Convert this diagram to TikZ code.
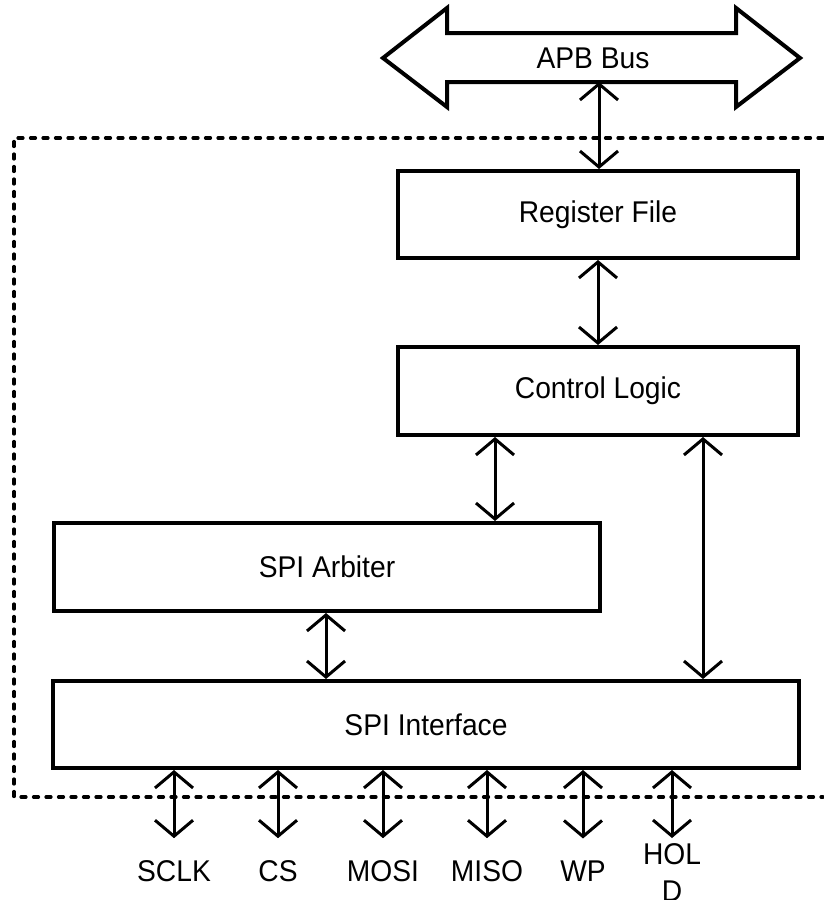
\documentclass[tikz,border=0pt]{standalone}
\usepackage{fontspec}
\setmainfont{Liberation Sans}
\newfontfamily\narrowfont[FakeStretch=0.94]{Liberation Sans}
\usetikzlibrary{arrows.meta}
\tikzset{
  blk/.style={draw, line width=4pt, rectangle, inner sep=0pt, font=\narrowfont\fontsize{30}{35}\selectfont},
  conn/.style={line width=3pt, {Straight Barb[length=16pt,width=38pt,line width=3pt]}-{Straight Barb[length=16pt,width=38pt,line width=3pt]}},
  lab/.style={inner sep=0pt, font=\narrowfont\fontsize{30}{37}\selectfont},
  bound/.style={line width=3.2pt, line cap=round, dash pattern=on 5pt off 7.5pt},
}
\begin{document}
\begin{tikzpicture}[x=1pt,y=-1pt]
\useasboundingbox (0,0) rectangle (823,900);
% APB bus double arrow
\draw[line width=4pt, line join=miter] (383,58) -- (447,8) -- (447,33) -- (736,33) -- (736,8) -- (800,58) -- (736,107) -- (736,82) -- (447,82) -- (447,107) -- cycle;
\node[lab] (apb) at (593,58) {APB Bus};
\coordinate (apbbot) at (599,82);
% boundary
\draw[bound] (823,138) -- (14,138) -- (14,797) -- (823,797);
% blocks
\node[blk, minimum width=400pt, minimum height=87pt] (reg) at (598,214.5) {Register File};
\node[blk, minimum width=400pt, minimum height=88pt] (ctrl) at (598,391) {Control Logic};
\node[blk, minimum width=546pt, minimum height=88pt] (arb) at (327,567) {SPI Arbiter};
\node[blk, minimum width=746pt, minimum height=87pt] (spi) at (426,724.5) {SPI Interface};
% helper columns
\coordinate (xa) at (495,0);
\coordinate (xb) at (703,0);
\coordinate (xc) at (326,0);
% connectors
\draw[conn] (apbbot) -- (apbbot |- reg.north);
\draw[conn] (reg.south) -- (ctrl.north);
\draw[conn] (ctrl.south -| xa) -- (arb.north -| xa);
\draw[conn] (ctrl.south -| xb) -- (spi.north -| xb);
\draw[conn] (arb.south -| xc) -- (spi.north -| xc);
% pins
\node[lab] (sclk) at (174,871) {SCLK};
\node[lab] (cs) at (278,871) {CS};
\node[lab] (mosi) at (383,871) {MOSI};
\node[lab] (miso) at (487,871) {MISO};
\node[lab] (wp) at (583,871) {WP};
\node[lab, anchor=north, align=center] (hold) at (672,843) {HOL\\D};
\foreach \p in {sclk,cs,mosi,miso,wp} {
  \draw[conn] (spi.south -| \p) -- ([yshift=22pt]\p.north);
}
\draw[conn] (spi.south -| hold) -- ([yshift=5pt]hold.north);
\end{tikzpicture}
\end{document}
